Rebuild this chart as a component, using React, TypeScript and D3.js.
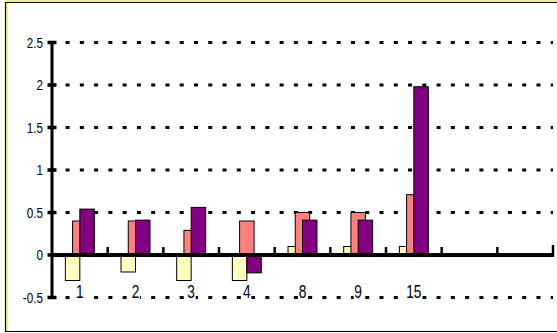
import React from "react";
import * as d3 from "d3";

const categories = ["1", "2", "3", "4", "8", "9", "15", "", ""];
const seriesA = [-0.3, -0.2, -0.3, -0.3, 0.1, 0.1, 0.1, null, null];
const seriesB = [0.4, 0.4, 0.29, 0.4, 0.5, 0.5, 0.71, null, null];
const seriesC = [0.54, 0.41, 0.56, -0.21, 0.41, 0.41, 1.98, null, null];
const yTicks = [-0.5, 0, 0.5, 1, 1.5, 2, 2.5];
const seriesColors = ["#FFFFC0", "#FF8080", "#800080"];

export default function App() {
  const W = 557, H = 333;
  const left = 52, right = 553;
  const keys = categories.map((c, i) => `k${i}`);
  const x = d3.scaleBand<string>().domain(keys).range([left, right]).padding(0);
  const y = d3.scaleLinear().domain([-0.5, 2.5]).range([297.5, 42.5]);
  const bw = x.bandwidth();
  const barW = bw * 0.26;
  const series = [seriesA, seriesB, seriesC];
  const font = "'Liberation Sans', Arial, sans-serif";

  return (
    <svg width={W} height={H} style={{ position: "absolute", left: 0, top: 0, background: "#fff" }}>
      <rect x={0} y={0} width={W} height={H} fill="#fff" />
      {/* frame */}
      <line x1={6} x2={W} y1={1} y2={1} stroke="#e0e000" strokeWidth={1.2} />
      <line x1={5} x2={W} y1={2.5} y2={2.5} stroke="#000" strokeWidth={1.2} />
      <line x1={5.5} x2={5.5} y1={2} y2={332} stroke="#000" strokeWidth={1.2} />
      <line x1={7} x2={7} y1={3} y2={331} stroke="#e0e000" strokeWidth={1} />
      <line x1={5} x2={W} y1={331.5} y2={331.5} stroke="#000" strokeWidth={1.2} />

      {/* gridlines */}
      {yTicks.filter((t) => t !== 0).map((t) => (
        <line key={`g${t}`} x1={51.3} x2={right} y1={y(t)} y2={y(t)}
          stroke="#000" strokeWidth={3} strokeDasharray="4 10.27" />
      ))}

      {/* bars */}
      {keys.map((k, ci) =>
        series.map((s, si) => {
          const v = s[ci];
          if (v === null || v === undefined) return null;
          const cx = (x(k) as number) + bw / 2;
          const bx = cx - barW + si * (barW / 2);
          const y0 = y(0), y1 = y(v);
          return (
            <rect key={`b${ci}-${si}`} x={bx} y={Math.min(y0, y1)} width={barW}
              height={Math.abs(y1 - y0)} fill={seriesColors[si]} stroke="#000" strokeWidth={1} />
          );
        })
      )}

      {/* y axis */}
      <line x1={left} x2={left} y1={y(2.5) - 1} y2={y(-0.5) + 1} stroke="#000" strokeWidth={3} />
      {yTicks.map((t) => (
        <line key={`yt${t}`} x1={47.5} x2={56.5} y1={y(t)} y2={y(t)} stroke="#000" strokeWidth={3.5} />
      ))}
      {yTicks.map((t) => (
        <text key={`yl${t}`} transform={`translate(43,${y(t)}) scale(0.78,1)`} dy="0.36em" textAnchor="end"
          fontFamily={font} fontSize={15} fill="#000">{String(t)}</text>
      ))}

      {/* zero axis */}
      <line x1={left} x2={right + 1} y1={y(0)} y2={y(0)} stroke="#000" strokeWidth={4} />
      {keys.slice(1).map((k) => (
        <line key={`xt${k}`} x1={x(k) as number} x2={x(k) as number} y1={y(0) - 8} y2={y(0)}
          stroke="#000" strokeWidth={2.5} />
      ))}
      <line x1={right} x2={right} y1={y(0) - 10} y2={y(0) + 2} stroke="#000" strokeWidth={2.5} />

      {/* category labels */}
      {keys.map((k, ci) => {
        const label = categories[ci];
        if (!label) return null;
        const cx = (x(k) as number) + bw / 2;
        const tw = label.length * 8 + 1;
        return (
          <g key={`cl${k}`}>
            <rect x={cx - tw / 2} y={281} width={tw} height={18} fill="#fff" />
            <text transform={`translate(${cx},297.5) scale(0.72,1)`} textAnchor="middle"
              fontFamily={font} fontSize={19} fill="#000">{label}</text>
          </g>
        );
      })}
    </svg>
  );
}
